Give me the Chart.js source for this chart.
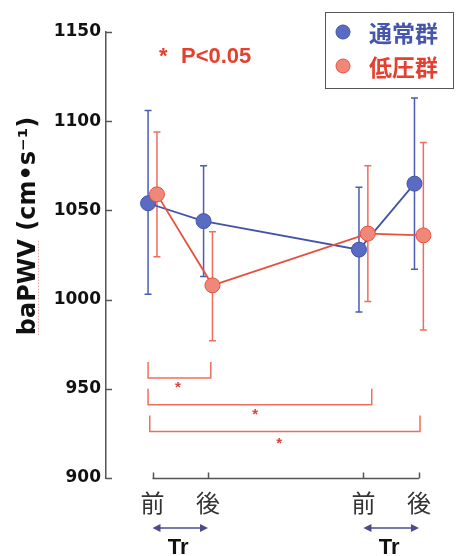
<!DOCTYPE html>
<html><head><meta charset="utf-8">
<script src="https://cdn.jsdelivr.net/npm/chart.js@4"></script>
<style>html,body{margin:0;padding:0;background:#fff}#wrap{width:459px;height:556px}</style>
</head><body><div id="wrap"><canvas id="c" width="459" height="556"></canvas></div>
<script>
// ---- data ----
const seriesNames = ['通常群', '低圧群'];
const timeLabels = ['前', '後', '前', '後'];
const timeX = [0, 1, 3.8, 4.8];
const normalMean  = [1054, 1044, 1028, 1065];
const normalUpper = [1106, 1075, 1063, 1113];
const normalLower = [1003, 1013, 993, 1017];
const hypoMean  = [1059, 1008, 1037, 1036];
const hypoUpper = [1094, 1038, 1075, 1088];
const hypoLower = [1024, 977, 999, 983];
const yTicks = [900, 950, 1000, 1050, 1100, 1150];
const sigFrom  = [-0.08, -0.08, -0.05];
const sigTo    = [1.05, 3.95, 4.82];
const sigTop   = [965, 950, 935];
const sigBase  = [956, 941, 926];
const sigStarX = [0.46, 1.85, 2.28];
const sigStarY = [952, 937, 921];
const trFrom = [0, 2];
const trTo   = [1, 3];
const sigNote = 'P<0.05';
const yTitle = 'baPWV (cm•s⁻¹)';
const trLabel = 'Tr';

// ---- styles ----
const BLUE_LINE = '#4254a8', BLUE_FILL = '#5a6bc3', BLUE_ERR = '#4a5cb4', BLUE_TXT = '#4656ad';
const RED_LINE = '#e8503e', RED_FILL = '#f0887a', RED_ERR = '#ee6e5c', RED_TXT = '#e4402f';
const OFF = 0.08;

const errSets = [
  {up: normalUpper, lo: normalLower, off: -OFF, color: BLUE_ERR},
  {up: hypoUpper, lo: hypoLower, off: OFF, color: RED_ERR}
];

const decor = {
  id: 'decor',
  beforeDatasetsDraw(chart) {
    const ctx = chart.ctx, xs = chart.scales.x, ys = chart.scales.y, ca = chart.chartArea;
    ctx.save();
    // y inward ticks
    ctx.strokeStyle = '#555'; ctx.lineWidth = 1.5;
    yTicks.forEach(v => {
      const y = Math.round(ys.getPixelForValue(v)) + 0.5;
      ctx.beginPath(); ctx.moveTo(ca.left, y); ctx.lineTo(ca.left + 6, y); ctx.stroke();
    });
    // offset x axis
    const yb = Math.round(ca.bottom) + 0.5;
    ctx.beginPath();
    ctx.moveTo(xs.getPixelForValue(timeX[0]), yb);
    ctx.lineTo(xs.getPixelForValue(timeX[timeX.length - 1]), yb);
    ctx.stroke();
    timeX.forEach(v => {
      const x = Math.round(xs.getPixelForValue(v)) + 0.5;
      ctx.beginPath(); ctx.moveTo(x, yb); ctx.lineTo(x, yb - 6); ctx.stroke();
    });
    // significance brackets
    ctx.strokeStyle = RED_ERR; ctx.lineWidth = 1.5;
    sigFrom.forEach((f, i) => {
      const x1 = xs.getPixelForValue(f), x2 = xs.getPixelForValue(sigTo[i]);
      const yT = ys.getPixelForValue(sigTop[i]), yB = ys.getPixelForValue(sigBase[i]);
      ctx.beginPath(); ctx.moveTo(x1, yT); ctx.lineTo(x1, yB); ctx.lineTo(x2, yB); ctx.lineTo(x2, yT); ctx.stroke();
      ctx.fillStyle = '#e0403a';
      ctx.font = 'bold 15px "Liberation Sans"';
      ctx.textAlign = 'center'; ctx.textBaseline = 'middle';
      ctx.fillText('*', xs.getPixelForValue(sigStarX[i]), ys.getPixelForValue(sigStarY[i]) + 3);
    });
    // error bars
    errSets.forEach(s => {
      ctx.strokeStyle = s.color; ctx.lineWidth = 1.5;
      s.up.forEach((u, i) => {
        const x = xs.getPixelForValue(timeX[i] + s.off);
        const y1 = ys.getPixelForValue(u), y2 = ys.getPixelForValue(s.lo[i]);
        ctx.beginPath();
        ctx.moveTo(x, y1); ctx.lineTo(x, y2);
        ctx.moveTo(x - 3.5, y1); ctx.lineTo(x + 3.5, y1);
        ctx.moveTo(x - 3.5, y2); ctx.lineTo(x + 3.5, y2);
        ctx.stroke();
      });
    });
    ctx.restore();
  },
  afterDraw(chart) {
    const ctx = chart.ctx, xs = chart.scales.x;
    ctx.save();
    // y title
    ctx.save();
    ctx.translate(35, 226);
    ctx.rotate(-Math.PI / 2);
    ctx.font = 'bold 24px "DejaVu Sans"';
    ctx.fillStyle = '#111';
    ctx.textAlign = 'center'; ctx.textBaseline = 'alphabetic';
    const w = ctx.measureText(yTitle).width;
    ctx.fillText(yTitle, 0, 0);
    const wb = ctx.measureText(yTitle.split(' ')[0]).width;
    ctx.strokeStyle = '#e9a0a0'; ctx.lineWidth = 1; ctx.setLineDash([1.5, 1.5]);
    ctx.beginPath(); ctx.moveTo(-w / 2, 3.5); ctx.lineTo(-w / 2 + wb, 3.5); ctx.stroke();
    ctx.restore();
    // P<0.05
    ctx.fillStyle = RED_TXT;
    ctx.font = 'bold 22px "Liberation Sans"';
    ctx.textAlign = 'left'; ctx.textBaseline = 'alphabetic';
    ctx.fillText('*', 159, 63);
    ctx.fillText(sigNote, 181, 63);
    // legend
    ctx.strokeStyle = '#555'; ctx.lineWidth = 1;
    ctx.strokeRect(325.5, 12.5, 128, 76);
    const legend = [[BLUE_FILL, BLUE_LINE, BLUE_TXT, 32], [RED_FILL, RED_LINE, RED_TXT, 66]];
    legend.forEach((l, i) => {
      ctx.beginPath(); ctx.arc(343, l[3], 7, 0, Math.PI * 2);
      ctx.fillStyle = l[0]; ctx.fill(); ctx.strokeStyle = l[1]; ctx.lineWidth = 1; ctx.stroke();
      ctx.fillStyle = l[2];
      ctx.font = 'bold 23px "Noto Sans CJK JP"';
      ctx.textBaseline = 'middle'; ctx.textAlign = 'left';
      ctx.fillText(seriesNames[i], 369, l[3] + 1);
    });
    // training arrows
    ctx.strokeStyle = '#4b4b8c'; ctx.fillStyle = '#4b4b8c'; ctx.lineWidth = 1.5;
    const ay = 528;
    trFrom.forEach((f, i) => {
      const x1 = xs.getPixelForValue(timeX[f]), x2 = xs.getPixelForValue(timeX[trTo[i]]);
      ctx.beginPath(); ctx.moveTo(x1 + 4, ay); ctx.lineTo(x2 - 4, ay); ctx.stroke();
      ctx.beginPath(); ctx.moveTo(x1, ay); ctx.lineTo(x1 + 8, ay - 4); ctx.lineTo(x1 + 8, ay + 4); ctx.closePath(); ctx.fill();
      ctx.beginPath(); ctx.moveTo(x2, ay); ctx.lineTo(x2 - 8, ay - 4); ctx.lineTo(x2 - 8, ay + 4); ctx.closePath(); ctx.fill();
      ctx.save();
      ctx.fillStyle = '#111';
      ctx.font = 'bold 22px "Liberation Sans"';
      ctx.textAlign = 'center'; ctx.textBaseline = 'alphabetic';
      ctx.fillText(trLabel, (x1 + x2) / 2 - 2, 554);
      ctx.restore();
    });
    ctx.restore();
  }
};

new Chart(document.getElementById('c'), {
  type: 'line',
  data: {
    datasets: [
      {
        label: seriesNames[0],
        data: normalMean.map((v, i) => ({x: timeX[i] - OFF, y: v})),
        borderColor: BLUE_LINE, borderWidth: 1.8,
        pointRadius: 7.5, pointBackgroundColor: BLUE_FILL, pointBorderColor: BLUE_LINE, pointBorderWidth: 1,
        tension: 0, order: 1
      },
      {
        label: seriesNames[1],
        data: hypoMean.map((v, i) => ({x: timeX[i] + OFF, y: v})),
        borderColor: RED_LINE, borderWidth: 1.8,
        pointRadius: 7.5, pointBackgroundColor: RED_FILL, pointBorderColor: RED_LINE, pointBorderWidth: 1,
        tension: 0, order: 0
      }
    ]
  },
  options: {
    responsive: false, animation: false, events: [],
    layout: {padding: {top: 32, right: 14, left: 0, bottom: 0}},
    plugins: {legend: {display: false}, tooltip: {enabled: false}},
    scales: {
      x: {
        type: 'linear', min: -0.838, max: 5.27,
        afterBuildTicks: a => { a.ticks = timeX.map(v => ({value: v})); },
        afterFit: s => { s.height = 78; },
        grid: {display: false, drawTicks: false},
        border: {display: false},
        ticks: {autoSkip: false, maxRotation: 0, minRotation: 0, padding: 10, color: '#333',
          font: {family: '"Noto Sans CJK JP"', size: 24},
          callback: (v, i) => timeLabels[i]}
      },
      y: {
        min: 900, max: 1150,
        afterBuildTicks: a => { a.ticks = yTicks.map(v => ({value: v})); },
        afterFit: s => { s.width = 106; },
        grid: {display: false, drawTicks: false},
        border: {display: true, color: '#555', width: 1.5},
        ticks: {padding: 5, color: '#111', font: {family: '"DejaVu Sans"', weight: 'bold', size: 17},
          callback: v => String(v)}
      }
    }
  },
  plugins: [decor]
});
</script></body></html>
